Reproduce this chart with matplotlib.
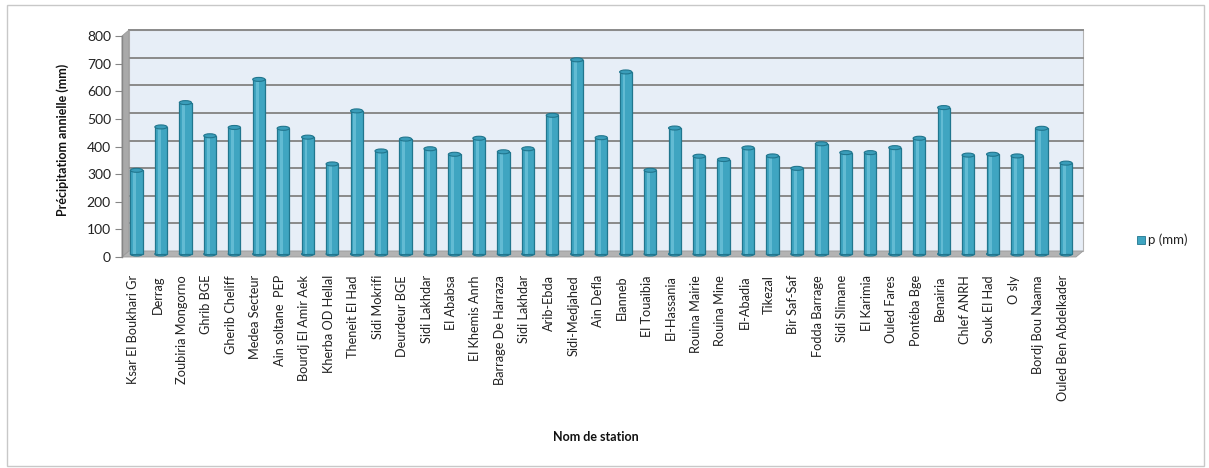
import matplotlib
matplotlib.use("Agg")
import matplotlib.pyplot as plt
import numpy as np
from matplotlib.patches import Ellipse, Polygon, Rectangle
from matplotlib.transforms import IdentityTransform, ScaledTranslation

plt.rcParams['font.family'] = ['Lato', 'DejaVu Sans']

stations = [
    "Ksar El Boukhari Gr", "Derrag", "Zoubiria Mongorno", "Ghrib BGE",
    "Gherib Cheliff", "Medea Secteur", "Ain soltane  PEP", "Bourdj El Amir Aek",
    "Kherba OD Hellal", "Theneit El Had", "Sidi Mokrifi", "Deurdeur BGE",
    "Sidi Lakhdar", "El Ababsa", "El Khemis Anrh", "Barrage De Harraza",
    "Sidi Lakhdar", "Arib-Ebda", "Sidi-Medjahed", "Ain Defla", "Elanneb",
    "El Touaibia", "El-Hassania", "Rouina Mairie", "Rouina Mine", "El-Abadia",
    "Tikezal", "Bir Saf-Saf", "Fodda Barrage", "Sidi Slimane", "El Karimia",
    "Ouled Fares", "Pontéba Bge", "Benairia", "Chlef ANRH", "Souk El Had",
    "O sly", "Bordj Bou Naama", "Ouled Ben Abdelkader",
]
precip = [
    303, 460, 548, 428, 458, 632, 455, 423, 326, 518, 373, 416,
    381, 361, 419, 370, 381, 502, 703, 421, 659, 303, 456, 354,
    342, 384, 355, 310, 399, 367, 367, 385, 419, 530, 358, 361,
    355, 455, 329,
]
yticks = [0, 100, 200, 300, 400, 500, 600, 700, 800]

W, H, DPI = 1209, 468, 100
fig = plt.figure(figsize=(W / DPI, H / DPI), dpi=DPI)

# chart frame (behind everything)
fig.patches.append(Rectangle((7 / W, 2 / H), 1197 / W, 461 / H, transform=fig.transFigure,
                             facecolor='none', edgecolor='#c8c8c8', lw=1.0, zorder=-5))

ax = fig.add_axes([122 / W, 1 - 257 / H, 954 / W, 221 / H])
ax.patch.set_visible(False)
x = np.arange(len(stations))
xmin, xmax = -0.45, len(stations) - 0.45
ax.set_xlim(xmin, xmax)
ax.set_ylim(0, 800)

# depth offsets (pixels) for back wall and for bar mid-depth
dx, dy = 7, 6
back = ax.transData + ScaledTranslation(dx / DPI, dy / DPI, fig.dpi_scale_trans)
mid = ax.transData + ScaledTranslation(dx / 2 / DPI, dy / 2 / DPI, fig.dpi_scale_trans)

# back wall and gridlines
ax.add_patch(Rectangle((xmin, 0), xmax - xmin, 800, transform=back, clip_on=False,
                       facecolor='#e7eef7', edgecolor='#b4b4b4', lw=0.8, zorder=0))
for v in yticks[1:]:
    ax.plot([xmin, xmax], [v, v], color='#8a8a8a', lw=1.4, transform=back,
            clip_on=False, zorder=1)

# side wall and floor, built in display coordinates
fig.canvas.draw()
fb = ax.transData.transform((xmin, 0))
ft = ax.transData.transform((xmin, 800))
fr = ax.transData.transform((xmax, 0))
off = np.array([dx, dy])
ax.add_patch(Polygon([fb, ft, ft + off, fb + off], closed=True, transform=IdentityTransform(),
                     facecolor='#a9a9a9', edgecolor='#9a9a9a', lw=0.6, zorder=1, clip_on=False))
ax.add_patch(Polygon([fb, fr, fr + off, fb + off], closed=True, transform=IdentityTransform(),
                     facecolor='#b3b3b3', edgecolor='#9a9a9a', lw=0.6, zorder=1, clip_on=False))

# cylinders
bw = 0.5
cap_h = 4 / (221 / 800)
ax.bar(x, precip, width=bw, color='#3fa5c1', edgecolor='#21768e', lw=0.9,
       transform=mid, zorder=3, clip_on=False)
ax.bar(x - 0.07, precip, width=0.12, color='#62bbd3', lw=0, transform=mid, zorder=3,
       clip_on=False)
for xi, v in zip(x, precip):
    ax.add_patch(Ellipse((xi, v), bw, cap_h, transform=mid, facecolor='#3a9dba',
                         edgecolor='#21768e', lw=0.8, zorder=4, clip_on=False))
    ax.add_patch(Ellipse((xi, 0), bw, cap_h, transform=mid, facecolor='#3fa5c1',
                         edgecolor='#21768e', lw=0.8, zorder=2, clip_on=False))

# axes styling
for s in ['top', 'right', 'bottom']:
    ax.spines[s].set_visible(False)
ax.spines['left'].set_color('#868686')
ax.spines['left'].set_linewidth(1.0)
ax.spines['left'].set_zorder(5)
ax.set_yticks(yticks)
ax.tick_params(axis='y', length=5, color='#868686', labelsize=10, pad=3, labelcolor='#222222')
ax.set_xticks(x)
ax.set_xticklabels(stations, rotation=90, fontsize=9.2, color='#222222', va='top', ha='center')
ax.tick_params(axis='x', length=0, pad=13)

fig.text(63 / W, 1 - 140 / H, "Précipitatiom annielle (mm)", rotation=90, ha='center',
         va='center', fontsize=9, fontweight='bold', color='#111111')
fig.text(596 / W, 1 - 437 / H, "Nom de station", ha='center', va='center',
         fontsize=9, fontweight='bold', color='#111111')

# legend
fig.patches.append(Rectangle((1137 / W, 1 - 244 / H), 8 / W, 8 / H, transform=fig.transFigure,
                             facecolor='#3fa5c1', edgecolor='#21768e', lw=0.6))
fig.text(1148 / W, 1 - 240 / H, "p (mm)", ha='left', va='center', fontsize=9.5, color='#222222')

fig.savefig("out.png", dpi=DPI)
